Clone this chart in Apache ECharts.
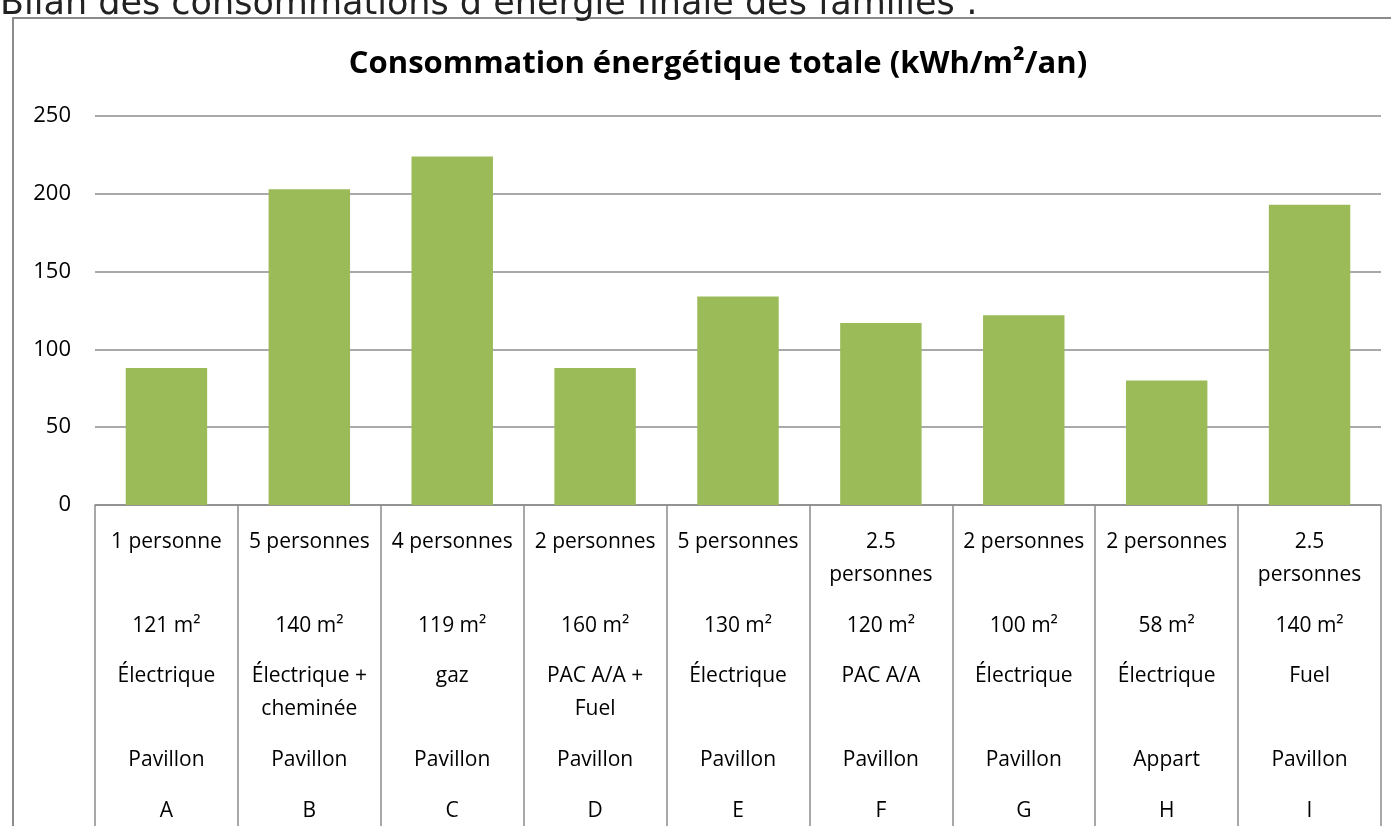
<!DOCTYPE html>
<html>
<head>
<meta charset="utf-8">
<script src="https://cdn.jsdelivr.net/npm/echarts@6/dist/echarts.min.js"></script>
<style>
  html, body { margin: 0; padding: 0; background: #fff; }
  #main { width: 1391px; height: 826px; }
</style>
</head>
<body>
<div id="main"></div>
<script>
// familles A..I
const familles = ['A', 'B', 'C', 'D', 'E', 'F', 'G', 'H', 'I']
const personnes = ['1 personne', '5 personnes', '4 personnes', '2 personnes', '5 personnes',
  '2.5\npersonnes', '2 personnes', '2 personnes', '2.5\npersonnes']
const surfaces = ['121 m²', '140 m²', '119 m²', '160 m²', '130 m²', '120 m²', '100 m²', '58 m²', '140 m²']
const chauffage = ['Électrique', 'Électrique +\ncheminée', 'gaz', 'PAC A/A +\nFuel', 'Électrique',
  'PAC A/A', 'Électrique', 'Électrique', 'Fuel']
const logement = ['Pavillon', 'Pavillon', 'Pavillon', 'Pavillon', 'Pavillon', 'Pavillon', 'Pavillon', 'Appart', 'Pavillon']
const conso = [88, 203, 224, 88, 134, 117, 122, 80, 193]
const yTicks = [0, 250, 50]

const FONT = '"Open Sans", "Noto Sans", sans-serif'
const myChart = echarts.init(document.getElementById('main'))

// un axe x par niveau de libelle
function niveau (labels, offset, margin, showLine) {
  return {
    type: 'category',
    position: 'bottom',
    data: familles,
    offset: offset,
    axisLine: { show: showLine, lineStyle: { color: '#8c8c8c', width: 1.5 } },
    axisTick: { show: showLine, length: 340, alignWithLabel: false, lineStyle: { color: '#8c8c8c', width: 1.5 } },
    axisLabel: {
      interval: 0,
      margin: margin,
      verticalAlign: 'top',
      lineHeight: 33,
      color: '#000',
      fontFamily: FONT,
      fontSize: 21,
      formatter: function (v, i) { return labels[i] }
    }
  }
}

myChart.setOption({
  animation: false,
  title: {
    text: 'Consommation énergétique totale (kWh/m²/an)',
    left: 713,
    top: 44,
    textAlign: 'center',
    textStyle: { fontFamily: FONT, fontSize: 31, fontWeight: 'bold', color: '#000' }
  },
  graphic: [
    {
      type: 'rect',
      shape: { x: 13, y: 18, width: 1450, height: 900 },
      style: { fill: null, stroke: '#8c8c8c', lineWidth: 2 },
      silent: true
    },
    {
      type: 'text',
      x: 0,
      y: 22,
      style: {
        text: 'Bilan des consommations d\u2019énergie finale des familles :',
        font: '35px "DejaVu Sans"',
        fill: '#222',
        verticalAlign: 'bottom'
      }
    }
  ],
  grid: { left: 95, right: 10, top: 116, bottom: 321, outerBoundsMode: 'none' },
  xAxis: [
    niveau(personnes, 0, 21, true),
    niveau(surfaces, 105, 0, false),
    niveau(chauffage, 155, 0, false),
    niveau(logement, 239, 0, false),
    niveau(familles, 290, 0, false)
  ],
  yAxis: {
    type: 'value',
    min: yTicks[0],
    max: yTicks[1],
    interval: yTicks[2],
    axisLine: { show: false },
    axisTick: { show: false },
    axisLabel: { margin: 24, color: '#000', fontFamily: FONT, fontSize: 22 },
    splitLine: { lineStyle: { color: '#8c8c8c', width: 1.5 } }
  },
  series: [{
    name: 'Consommation',
    type: 'bar',
    data: conso,
    barCategoryGap: '43%',
    itemStyle: { color: '#9bbb59' }
  }]
})
</script>
</body>
</html>
